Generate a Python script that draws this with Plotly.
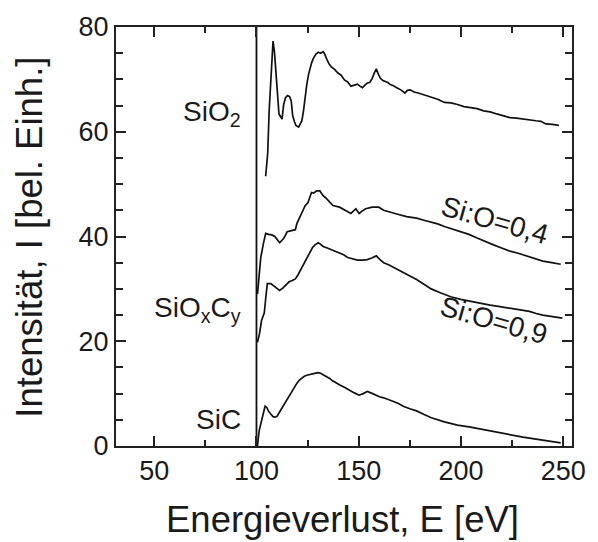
import plotly.graph_objects as go

# ---------------- data ----------------
sio2_x = [104.5, 105.0, 105.5, 106.2, 107.0, 107.6, 108.1, 108.8, 109.5, 110.3, 111.0, 111.6,
          112.5, 113.3, 114.2, 115.2, 116.2, 117.0, 117.7, 118.5, 119.3, 120.6, 121.5, 122.2,
          123.0, 123.5, 124.6, 125.5, 126.2, 127.0, 127.8, 129.0, 130.2, 131.4, 132.6, 133.4,
          134.2, 135.4, 136.6, 138.2, 139.8, 141.4, 143.0, 144.6, 146.2, 147.8, 149.4, 150.6,
          151.8, 153.0, 154.2, 155.4, 156.6, 157.6, 158.6, 159.6, 160.6, 161.8, 163.0, 164.2,
          165.4, 167.0, 168.6, 170.6, 172.6, 173.8, 175.1, 177.1, 179.1, 182.2, 185.4, 188.6,
          191.9, 195.1, 198.3, 201.5, 204.7, 207.9, 211.1, 214.3, 217.5, 220.7, 223.9, 227.1,
          230.3, 233.5, 236.7, 239.1, 241.5, 244.7, 247.9]
sio2_y = [51.5, 53.5, 56.0, 64.0, 70.2, 75.0, 77.3, 75.2, 71.5, 66.5, 63.4, 63.0,
          62.4, 65.2, 66.5, 66.9, 66.7, 65.9, 63.1, 62.0, 61.2, 60.9, 61.6, 62.1,
          64.0, 65.9, 69.0, 71.0, 72.1, 73.2, 74.0, 74.8, 75.2, 75.0, 75.3, 74.8,
          74.0, 73.0, 72.4, 71.9, 71.2, 70.8, 69.9, 69.5, 68.7, 68.9, 69.1, 68.7,
          68.4, 68.9, 69.3, 69.4, 70.2, 71.2, 72.0, 71.0, 70.2, 69.8, 69.6, 69.4,
          69.0, 68.8, 68.4, 68.0, 67.4, 67.9, 68.0, 67.6, 67.4, 67.0, 66.5, 66.2,
          65.6, 65.5, 65.2, 64.8, 64.6, 64.4, 64.0, 63.8, 63.4, 63.0, 62.7, 62.6,
          62.4, 62.3, 62.1, 62.0, 61.5, 61.4, 61.2]

sio04_x = [100.5, 101.0, 102.1, 103.3, 104.5, 106.0, 107.5, 109.0, 110.0, 111.3, 112.3, 113.4,
           115.0, 117.0, 119.0, 119.8, 121.0, 122.2, 123.8, 125.2, 126.9, 128.0, 129.4, 131.0,
           132.6, 133.8, 135.0, 137.4, 140.6, 143.8, 146.2, 148.6, 150.2, 151.8, 153.4, 156.6,
           159.8, 162.2, 165.4, 168.6, 173.4, 178.3, 181.9, 185.4, 188.6, 191.9, 195.9, 199.9,
           203.9, 207.9, 211.9, 215.9, 219.9, 223.9, 228.0, 232.0, 236.0, 240.0, 244.4, 248.8]
sio04_y = [29.0, 31.6, 36.0, 38.5, 40.6, 40.4, 40.3, 40.0, 39.4, 38.8, 39.2, 39.7,
           40.9, 41.1, 41.3, 42.5, 43.6, 44.7, 45.9, 46.5, 48.4, 48.3, 48.7, 48.7,
           47.8, 47.4, 46.9, 45.9, 45.6, 45.0, 44.4, 45.3, 44.4, 44.9, 45.3, 45.6,
           45.6, 45.0, 44.7, 44.3, 43.8, 43.5, 43.1, 42.8, 42.4, 41.9, 41.4, 40.9,
           40.4, 39.7, 39.0, 38.4, 37.8, 37.2, 36.8, 36.3, 35.8, 35.3, 35.0, 34.7]

sio09_x = [100.5, 101.5, 102.5, 103.8, 104.6, 105.3, 107.0, 108.5, 110.0, 111.3, 113.0, 114.5,
           115.8, 117.5, 119.0, 120.2, 121.4, 122.6, 123.8, 125.0, 126.2, 127.4, 128.6, 130.2,
           131.4, 132.6, 134.6, 136.6, 138.6, 140.6, 142.6, 144.6, 147.0, 149.4, 151.8, 154.2,
           156.4, 158.6, 160.4, 162.2, 164.6, 167.0, 169.4, 171.8, 175.0, 178.3, 181.9, 185.4,
           190.2, 195.0, 199.9, 204.7, 209.5, 214.3, 219.1, 223.9, 228.7, 233.5, 236.8, 240.0,
           244.8, 249.6]
sio09_y = [19.8, 21.5, 24.0, 25.4, 28.5, 31.0, 31.0, 30.6, 30.2, 29.7, 30.2, 30.9,
           31.3, 31.6, 31.9, 32.6, 33.5, 34.4, 35.3, 36.3, 37.2, 37.9, 38.4, 38.8,
           38.5, 38.1, 37.8, 37.5, 37.2, 36.9, 36.5, 36.0, 35.8, 35.5, 35.5, 35.6,
           35.9, 36.3, 35.6, 35.0, 34.6, 34.1, 33.7, 33.2, 32.4, 31.8, 30.9, 30.0,
           29.2, 28.5, 28.0, 27.6, 27.2, 26.9, 26.6, 26.3, 26.0, 25.7, 25.3, 25.0,
           24.7, 24.4]

sic_x = [100.2, 100.5, 101.3, 102.0, 102.6, 103.4, 104.2, 105.0, 105.8, 107.0, 108.1, 109.1,
         110.1, 111.3, 112.5, 113.7, 114.9, 116.2, 117.4, 118.6, 119.8, 121.0, 122.2, 123.4,
         124.6, 126.2, 127.8, 129.0, 130.2, 131.4, 132.6, 134.2, 135.8, 137.4, 139.0, 141.0,
         143.0, 145.0, 147.0, 148.6, 150.2, 152.2, 154.2, 156.2, 158.3, 160.2, 162.2, 164.6,
         167.0, 169.4, 171.8, 175.0, 178.3, 182.0, 185.5, 191.9, 198.3, 204.7, 211.1, 217.5,
         223.9, 230.3, 235.1, 240.0, 244.4, 248.8]
sic_y = [0.0, 0.1, 2.9, 4.0, 4.8, 6.5, 7.6, 7.4, 6.7, 6.1, 5.6, 5.5,
         5.7, 6.5, 7.3, 8.1, 8.9, 9.6, 10.4, 11.2, 12.0, 12.6, 13.0, 13.3,
         13.5, 13.7, 13.8, 13.9, 14.0, 13.9, 13.6, 13.3, 12.9, 12.4, 12.0, 11.6,
         11.2, 10.7, 10.3, 10.0, 9.7, 10.0, 10.4, 10.1, 9.7, 9.4, 9.2, 8.9,
         8.5, 8.1, 7.6, 7.1, 6.7, 6.0, 5.4, 4.6, 4.0, 3.6, 3.1, 2.6,
         2.2, 1.7, 1.4, 1.1, 0.8, 0.6]

edge_x = [100, 100]
edge_y = [0, 80]

x_ticks = [50, 100, 150, 200, 250]
y_ticks = [0, 20, 40, 60, 80]

labels_left = ["SiO<sub>2</sub>", "SiO<sub>x</sub>C<sub>y</sub>", "SiC"]
labels_left_y = [63.4, 26.1, 5.1]
labels_right = ["Si:O=0,4", "Si:O=0,9"]
labels_right_x = [216.8, 216.3]
labels_right_y = [43.0, 24.0]

x_title = "Energieverlust, E [eV]"
y_title = "Intensität, I [bel. Einh.]"

# ---------------- figure ----------------
FONT = "Liberation Sans, Arial, Helvetica, sans-serif"
TXT = "#1a1a1a"
LINE = dict(color="#111111", width=1.7)

fig = go.Figure()
fig.add_trace(go.Scatter(x=edge_x, y=edge_y, mode="lines", line=dict(color="#111111", width=1.8)))
for xs, ys in [(sio2_x, sio2_y), (sio04_x, sio04_y), (sio09_x, sio09_y), (sic_x, sic_y)]:
    fig.add_trace(go.Scatter(x=xs, y=ys, mode="lines", line=LINE))

for txt, yy in zip(labels_left, labels_left_y):
    fig.add_annotation(x=93.3, y=yy, xref="x", yref="y", text=txt, showarrow=False,
                       xanchor="right", yanchor="middle",
                       font=dict(family=FONT, size=28, color=TXT))
for txt, xx, yy in zip(labels_right, labels_right_x, labels_right_y):
    fig.add_annotation(x=xx, y=yy, xref="x", yref="y", text=txt, showarrow=False,
                       textangle=16, xanchor="center", yanchor="middle",
                       font=dict(family=FONT, size=28, color=TXT))

fig.add_annotation(x=0.497, y=-0.175, xref="paper", yref="paper", text=x_title,
                   showarrow=False, xanchor="center", yanchor="middle",
                   font=dict(family=FONT, size=36.5, color=TXT))
fig.add_annotation(x=-0.19, y=0.498, xref="paper", yref="paper", text=y_title,
                   showarrow=False, xanchor="center", yanchor="middle", textangle=-90,
                   font=dict(family=FONT, size=36.5, color=TXT))

axis_common = dict(showgrid=False, zeroline=False, showline=True, linecolor="#222222",
                   linewidth=2, mirror="ticks", ticks="inside", tickcolor="#222222",
                   tickwidth=1.5, tickfont=dict(family=FONT, size=27, color=TXT))

fig.update_xaxes(range=[31.3, 254.3], tickvals=x_ticks, ticklen=10,
                 minor=dict(dtick=25, tick0=0, ticks="inside", ticklen=6,
                            tickcolor="#222222", tickwidth=1.5),
                 **axis_common)
fig.update_yaxes(range=[0, 80], tickvals=y_ticks, ticklen=10,
                 minor=dict(dtick=5, tick0=0, ticks="inside", ticklen=7,
                            tickcolor="#222222", tickwidth=1.5),
                 **axis_common)

fig.update_layout(width=598, height=542, showlegend=False,
                  margin=dict(l=116, r=18, t=18, b=96, pad=0),
                  plot_bgcolor="white", paper_bgcolor="white",
                  font=dict(family=FONT, color=TXT))

fig.write_html("out.html")
